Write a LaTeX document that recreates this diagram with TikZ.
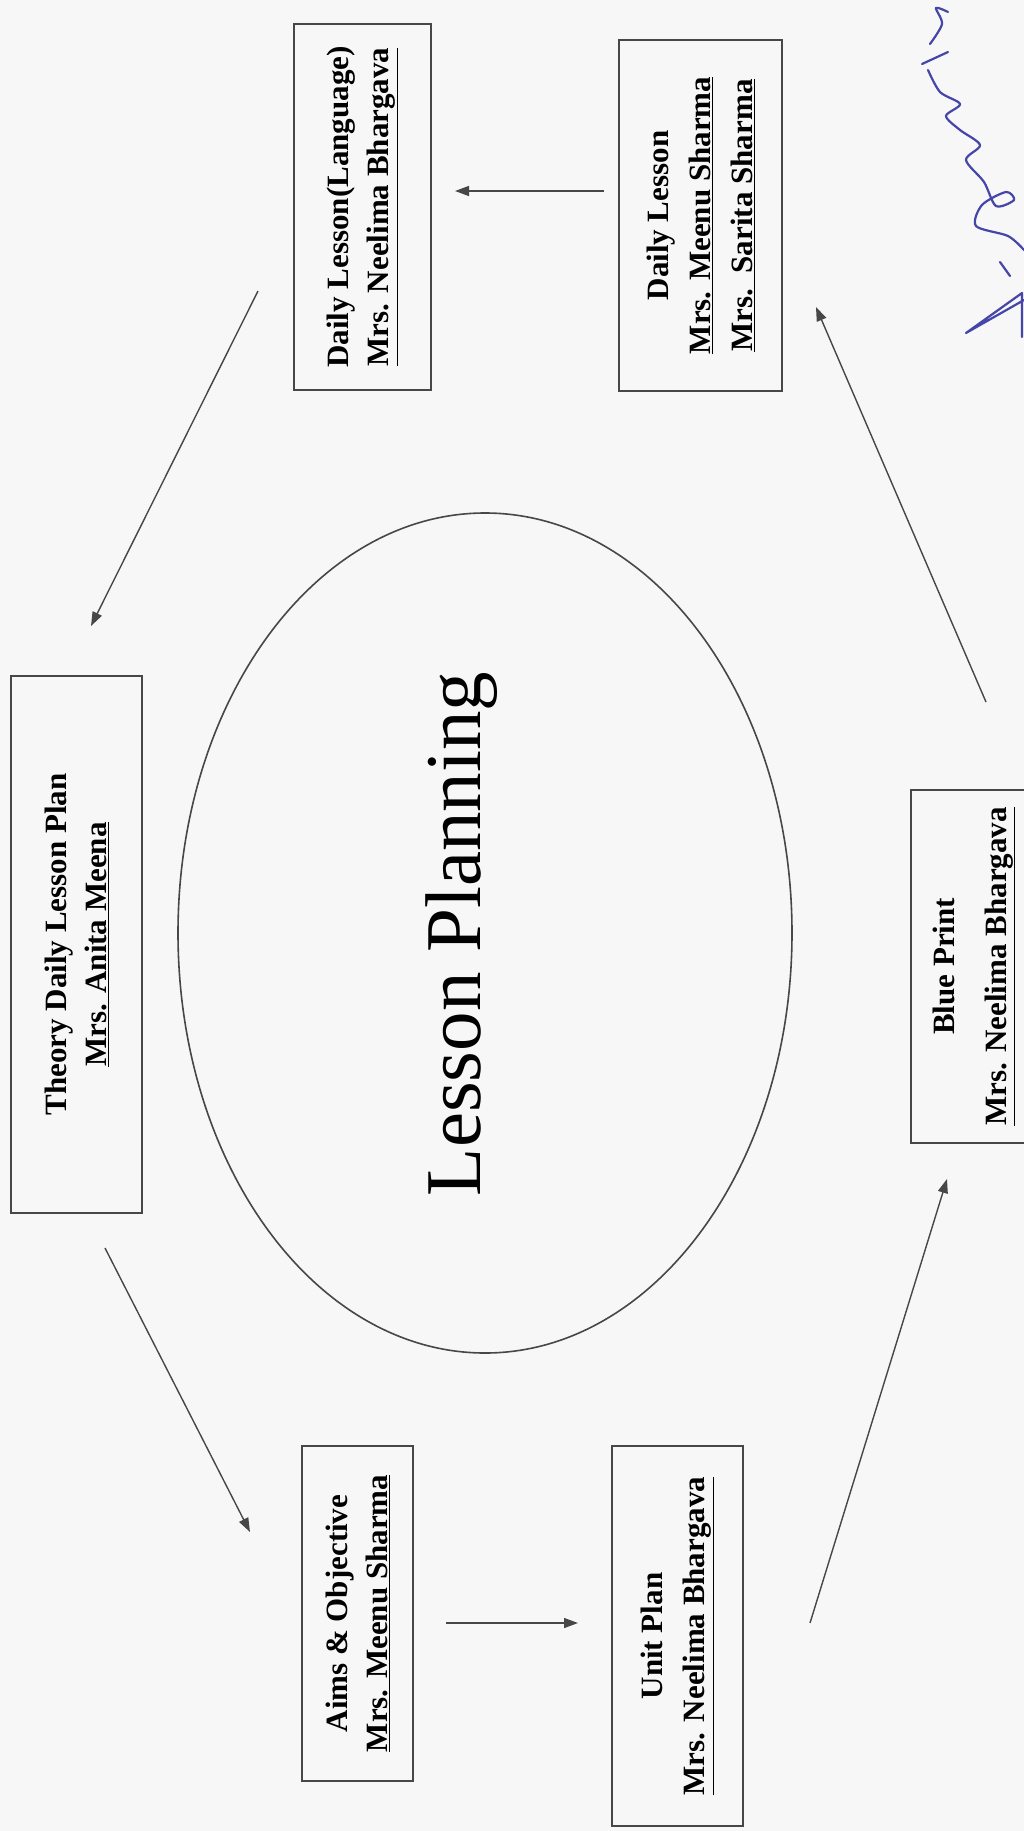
\documentclass[tikz,border=0pt]{standalone}
\usepackage{fontspec}
\setmainfont{Liberation Serif}
\usepackage{tikz}
\usetikzlibrary{arrows.meta}
\definecolor{Trait}{gray}{0.28}
\definecolor{Encre}{RGB}{70,70,170}
\tikzset{
Boite/.style={
 draw=Trait,
 line width=2pt,
 rotate=90,
 inner sep=0pt,
 align=center,
 font=\fontsize{31}{40}\selectfont\bfseries
 },
Fleche/.style={
 draw=Trait,
 line width=1.4pt,
 -{Triangle[length=14pt,width=10pt]}
 },
Plume/.style={
 draw=Encre,
 line width=2.2pt,
 line cap=round,
 line join=round
 }
}

\begin{document}
\begin{tikzpicture}[x=1pt,y=-1pt]
\useasboundingbox (0,0) rectangle (1024,1831);
\fill[black!3] (0,0) rectangle (1024,1831);
% centre
\draw[Trait,line width=1.6pt] (485,933) ellipse [x radius=307,y radius=420];
\node[rotate=90,anchor=base,font=\fontsize{79}{90}\selectfont] (titre) at (480,934) {Lesson Planning};
% boites
\node[Boite,minimum width=366pt,minimum height=137pt] (langue) at (362.5,207) {Daily Lesson(Language)\\\underline{Mrs. Neelima Bhargava}};
\node[Boite,minimum width=351pt,minimum height=163pt,font=\fontsize{31}{42}\selectfont\bfseries] (journal) at (700.5,215.5) {Daily Lesson\\\underline{Mrs. Meenu Sharma}\\\underline{Mrs.\ \ Sarita Sharma}};
\node[Boite,minimum width=537pt,minimum height=131pt] (theorie) at (76.5,944.5) {Theory Daily Lesson Plan\\\underline{Mrs. Anita Meena}};
\node[Boite,minimum width=353pt,minimum height=126pt] (plan) at (974,966.5) {Blue Print\\[12pt]\underline{Mrs. Neelima Bhargava}};
\node[Boite,minimum width=335pt,minimum height=111pt] (buts) at (357.5,1613.5) {Aims \& Objective\\\underline{Mrs. Meenu Sharma}};
\node[Boite,minimum width=380pt,minimum height=131pt,font=\fontsize{31}{42}\selectfont\bfseries] (unite) at (677.5,1636) {Unit Plan\\\underline{Mrs. Neelima Bhargava}};
% bouts des fleches
\coordinate (journal-o) at (604,191);
\coordinate (langue-i) at (455,191);
\coordinate (langue-o) at (258,291);
\coordinate (theorie-i) at (91,626);
\coordinate (theorie-o) at (105,1248);
\coordinate (buts-i) at (250,1532);
\coordinate (buts-o) at (446,1623);
\coordinate (unite-i) at (578,1623);
\coordinate (unite-o) at (810,1623);
\coordinate (plan-i) at (947,1179);
\coordinate (plan-o) at (986,702);
\coordinate (journal-i) at (816,307);
\draw[Fleche] (journal-o) -- (langue-i);
\draw[Fleche] (langue-o) -- (theorie-i);
\draw[Fleche] (theorie-o) -- (buts-i);
\draw[Fleche] (buts-o) -- (unite-i);
\draw[Fleche] (unite-o) -- (plan-i);
\draw[Fleche] (plan-o) -- (journal-i);
% signature
\draw[Plume] (1022,337) -- (1022,293) -- (966,333) -- (1024,300);
\draw[Plume] (1000,262) -- (1010,276);
\draw[Plume] plot[smooth] coordinates {(1024,250) (1008,236) (976,226) (982,205) (1006,192) (1014,200) (996,206) (984,182) (966,160) (980,145) (960,130) (946,116) (960,104) (940,92) (928,70)};
\draw[Plume] (922,64) -- (948,52);
\draw[Plume] plot[smooth] coordinates {(930,44) (942,24) (936,8) (948,12)};
\end{tikzpicture}
\end{document}
